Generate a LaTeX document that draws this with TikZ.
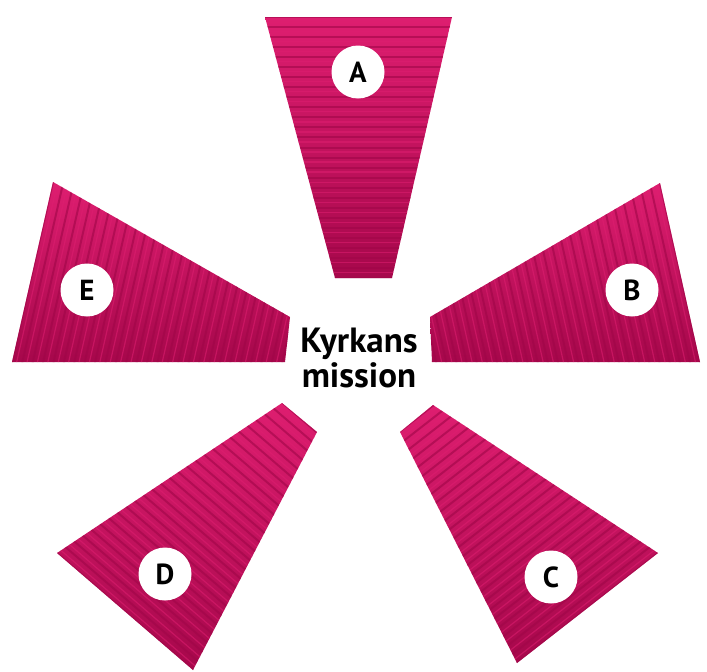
\documentclass[tikz,border=0pt]{standalone}
\usepackage{fontspec}
\setmainfont{PT Sans}
\usetikzlibrary{calc}
\definecolor{mag}{RGB}{200,16,92}
\definecolor{maglight}{RGB}{222,30,112}
\definecolor{magdark}{RGB}{160,6,72}
\tikzset{
  badge/.style={circle,fill=white,minimum size=53pt,inner sep=0pt,
    font=\fontsize{29}{29}\selectfont\bfseries,text=black},
  stripe/.style={draw=magdark,line width=2pt,opacity=0.6,
    shorten <=-60pt,shorten >=-60pt},
  hilite/.style={draw=maglight,line width=1.2pt,opacity=0.55,
    shorten <=-60pt,shorten >=-60pt},
  title/.style={align=center,font=\fontsize{35}{35}\selectfont\bfseries,text=black}
}
% #1 W1, #2 W2, #3 N2, #4 N1, #5 axis vector, #6 shading angle
\newcommand{\petal}[6]{%
  \begin{scope}
    \clip #1 -- #2 -- #3 -- #4 -- cycle;
    \shade[shading angle=#6,top color=maglight,bottom color=magdark!85!mag]
      #1 -- #2 -- #3 -- #4 -- cycle;
    \foreach \i in {0,...,28}{
      \pgfmathsetmacro{\t}{\i/26}
      \pgfmathsetmacro{\u}{(\i+0.45)/26}
      \draw[stripe] ($#1+\t*#5$) -- ($#2+\t*#5$);
      \draw[hilite] ($#1+\u*#5$) -- ($#2+\u*#5$);
    }
  \end{scope}}
\begin{document}
\begin{tikzpicture}[x=1pt,y=-1pt]
\useasboundingbox (0,0) rectangle (707,672);
% A
\petal{(265,17)}{(452,17)}{(392,278)}{(335,278)}{(5,261)}{20}
% B
\petal{(660,183)}{(700,362)}{(432,362)}{(430,317)}{(-249,67)}{-60}
% C
\petal{(658,553)}{(517,663)}{(400,432)}{(433,405)}{(-171,-189.5)}{-140}
% D
\petal{(57,553)}{(193,670)}{(317,432)}{(282,403)}{(174.5,-194)}{140}
% E
\petal{(53,182)}{(12,362)}{(285,362)}{(290,317)}{(255,67.5)}{60}
\node[badge] (a) at (358,72) {A};
\node[badge] (b) at (632,290) {B};
\node[badge] (c) at (551,577) {C};
\node[badge] (d) at (165,574) {D};
\node[badge] (e) at (87,290) {E};
\node[title] (m) at (359,358) {Kyrkans\\mission};
\end{tikzpicture}
\end{document}
